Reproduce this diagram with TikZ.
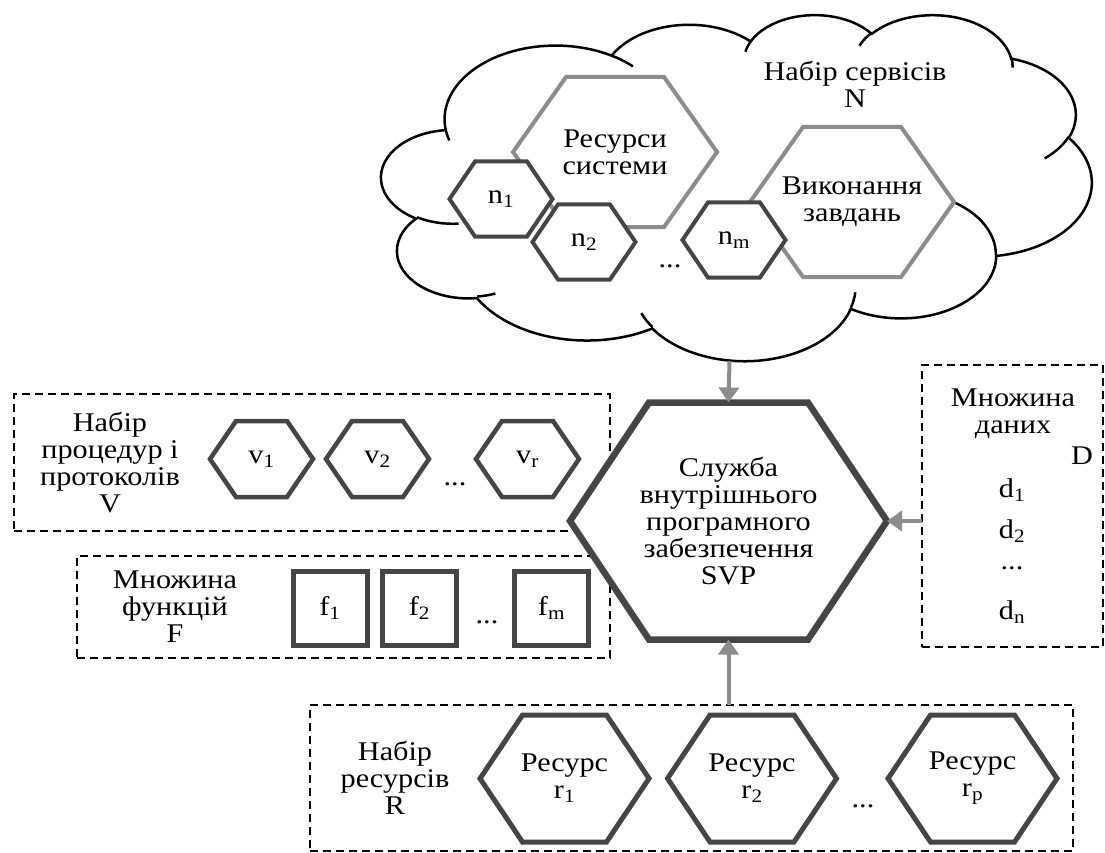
\documentclass[tikz,border=0pt]{standalone}
\usepackage{fontspec}
\setmainfont{Liberation Serif}[FakeStretch=1.12]
\usetikzlibrary{arrows.meta,calc}

\definecolor{framedark}{HTML}{454545}
\definecolor{framelight}{HTML}{8C8C8C}
\definecolor{flowgray}{HTML}{8C8C8C}

\makeatletter
% Hexagon node: rectangle anchors, left and right sides drawn as points.
\pgfkeys{/pgf/hex inset/.initial=10pt}
\pgfdeclareshape{hexbox}{%
  \inheritsavedanchors[from=rectangle]%
  \inheritanchorborder[from=rectangle]%
  \inheritanchor[from=rectangle]{center}%
  \inheritanchor[from=rectangle]{mid}%
  \inheritanchor[from=rectangle]{base}%
  \inheritanchor[from=rectangle]{north}%
  \inheritanchor[from=rectangle]{south}%
  \inheritanchor[from=rectangle]{east}%
  \inheritanchor[from=rectangle]{west}%
  \backgroundpath{%
    \southwest \edef\hx@l{\the\pgf@x}\edef\hx@b{\the\pgf@y}%
    \northeast \edef\hx@r{\the\pgf@x}\edef\hx@t{\the\pgf@y}%
    \pgfmathsetlengthmacro\hx@m{(\hx@b+\hx@t)/2}%
    \pgfmathsetlengthmacro\hx@li{\hx@l+\pgfkeysvalueof{/pgf/hex inset}}%
    \pgfmathsetlengthmacro\hx@ri{\hx@r-\pgfkeysvalueof{/pgf/hex inset}}%
    \pgfpathmoveto{\pgfqpoint{\hx@l}{\hx@m}}%
    \pgfpathlineto{\pgfqpoint{\hx@li}{\hx@t}}%
    \pgfpathlineto{\pgfqpoint{\hx@ri}{\hx@t}}%
    \pgfpathlineto{\pgfqpoint{\hx@r}{\hx@m}}%
    \pgfpathlineto{\pgfqpoint{\hx@ri}{\hx@b}}%
    \pgfpathlineto{\pgfqpoint{\hx@li}{\hx@b}}%
    \pgfpathclose
  }%
}

% Cloud outline: elliptic arcs in a 432 x 432 frame, angles measured on screen.
\def\cloudL{381.5}\def\cloudT{14}
\def\cloudsx{1.643519}\def\cloudsy{0.800926}
\newcommand\cloudarc[5]{% style name, x radius, y radius, start angle, sweep
  \pgfmathsetmacro\cl@s{atan2(#2*sin(#4),#3*cos(#4))}%
  \pgfmathsetmacro\cl@e{atan2(#2*sin(#4+#5),#3*cos(#4+#5))}%
  \pgfmathsetmacro\cl@e{\cl@s+mod(\cl@e-\cl@s+720,360)}%
  \pgfmathsetmacro\cl@rx{#2*\cloudsx}%
  \pgfmathsetmacro\cl@ry{#3*\cloudsy}%
  \edef\cl@tmp{\noexpand\tikzset{#1/.style={start angle=\cl@s,end angle=\cl@e,x radius=\cl@rx,y radius=\cl@ry}}}%
  \cl@tmp
}
\makeatother

% outer lobes
\cloudarc{clo1}{67.53}{91.90}{-190.4875}{123.7805}
\cloudarc{clo2}{53.33}{72.67}{-144.1024}{89.9452}
\cloudarc{clo3}{43.65}{59.45}{-145.8079}{99.7230}
\cloudarc{clo4}{48.57}{65.95}{-130.9861}{117.2417}
\cloudarc{clo5}{53.33}{72.73}{-78.7089}{109.0269}
\cloudarc{clo6}{67.75}{92.20}{-46.2673}{130.2690}
\cloudarc{clo7}{57.85}{78.67}{0.6250}{114.0333}
\cloudarc{clo8}{67.52}{92.15}{22.4516}{115.1726}
\cloudarc{clo9}{77.20}{105.43}{66.2426}{75.7110}
\cloudarc{clo10}{43.60}{59.18}{-274.9421}{146.7356}
\cloudarc{clo11}{43.45}{59.45}{-246.8285}{152.5189}
% inner strokes
\cloudarc{cli1}{43.45}{59.45}{86.742}{26.4295}
\cloudarc{cli2}{43.60}{59.18}{73.6105}{11.4475}
\cloudarc{cli3}{67.52}{92.15}{137.6242}{14.0811}
\cloudarc{cli4}{67.52}{92.15}{6.4533}{15.9984}
\cloudarc{cli5}{57.85}{78.67}{-70.2924}{70.9174}
\cloudarc{cli6}{53.33}{72.73}{30.3180}{27.7515}
\cloudarc{cli7}{48.57}{65.95}{-13.7443}{14.8589}
\cloudarc{cli8}{48.57}{65.95}{-149.1815}{18.1954}
\cloudarc{cli9}{43.65}{59.45}{-163.4943}{17.6864}
\cloudarc{cli10}{67.53}{91.90}{-66.7070}{12.3194}
\cloudarc{cli11}{67.53}{91.90}{157.6544}{11.8582}

\tikzset{
  txt/.style={font=\fontsize{27}{27}\selectfont, inner sep=0pt, align=center},
  hexbase/.style={shape=hexbox, fill=white, inner sep=0pt, outer sep=0pt, txt},
  cloudhex/.style={hexbase, draw=framelight, line width=4pt,
    minimum width=204pt, minimum height=150pt, hex inset=53pt},
  smallhex/.style={hexbase, draw=framedark, line width=4pt,
    minimum width=103pt, minimum height=75pt, hex inset=25.5pt},
  vhex/.style={hexbase, draw=framedark, line width=4.5pt,
    minimum width=103pt, minimum height=76pt, hex inset=26pt},
  rhex/.style={hexbase, draw=framedark, line width=5pt,
    minimum width=169pt, minimum height=127pt, hex inset=42.5pt},
  corehex/.style={hexbase, draw=framedark, line width=6.5pt,
    minimum width=317pt, minimum height=237pt, hex inset=79pt},
  funcbox/.style={draw=framedark, line width=5pt, fill=white,
    minimum width=74pt, minimum height=74pt, inner sep=0pt, outer sep=0pt, txt},
  groupbox/.style={draw=black, line width=1.8pt, dash pattern=on 8pt off 5pt,
    inner sep=0pt, outer sep=0pt, anchor=north west},
  flow/.style={draw=flowgray, line width=4pt, -{Triangle[length=15pt,width=20pt]}},
  cloudline/.style={draw=black, line width=2.5pt},
}

\begin{document}
\begin{tikzpicture}[x=1pt,y=-1pt]
\useasboundingbox (0,0) rectangle (1105,853);

% ---- cloud of services ----
\draw[cloudline, fill=white] ({\cloudL+39.00*\cloudsx},{\cloudT+143.70*\cloudsy})
  arc[clo1] arc[clo2] arc[clo3] arc[clo4] arc[clo5] arc[clo6]
  arc[clo7] arc[clo8] arc[clo9] arc[clo10] arc[clo11] -- cycle;
\draw[cloudline]
  ({\cloudL+46.93*\cloudsx},{\cloudT+261.77*\cloudsy}) arc[cli1]
  ({\cloudL+69.28*\cloudsx},{\cloudT+348.99*\cloudsy}) arc[cli2]
  ({\cloudL+164.78*\cloudsx},{\cloudT+390.90*\cloudsy}) arc[cli3]
  ({\cloudL+288.27*\cloudsx},{\cloudT+347.51*\cloudsy}) arc[cli4]
  ({\cloudL+341.29*\cloudsx},{\cloudT+229.54*\cloudsy}) arc[cli5]
  ({\cloudL+417.98*\cloudsx},{\cloudT+153.54*\cloudsy}) arc[cli6]
  ({\cloudL+383.24*\cloudsx},{\cloudT+54.26*\cloudsy}) arc[cli7]
  ({\cloudL+290.78*\cloudsx},{\cloudT+39.52*\cloudsy}) arc[cli8]
  ({\cloudL+221.41*\cloudsx},{\cloudT+47.20*\cloudsy}) arc[cli9]
  ({\cloudL+140.00*\cloudsx},{\cloudT+51.92*\cloudsy}) arc[cli10]
  ({\cloudL+41.27*\cloudsx},{\cloudT+157.89*\cloudsy}) arc[cli11];
\coordinate (cloudbase) at (729.5,361);

\node[txt] (ntitle) at (855,84) {Набір сервісів\\N};
\node[cloudhex] (ressys) at (615,152) {Ресурси\\системи};
\node[cloudhex] (tasks) at (852,202) {Виконання\\завдань};
\node[smallhex] (n1) at (501,199) {n\textsubscript{1}};
\node[smallhex] (n2) at (584,242) {n\textsubscript{2}};
\node[smallhex] (nm) at (734,240) {n\textsubscript{m}};
\node[txt] (ndots) at (670,266) {...};

% ---- procedures and protocols ----
\node[groupbox, minimum width=596pt, minimum height=137pt] (vbox) at (14,394) {};
\node[txt] (vlabel) at (110,463) {Набір\\процедур і\\протоколів\\V};
\node[vhex] (v1) at (261.5,459) {v\textsubscript{1}};
\node[vhex] (v2) at (377.5,459) {v\textsubscript{2}};
\node[vhex] (vr) at (527.5,459) {v\textsubscript{r}};
\node[txt] (vdots) at (455,484) {...};

% ---- functions ----
\node[groupbox, minimum width=533pt, minimum height=102pt] (fbox) at (77,556) {};
\node[txt] (flabel) at (175,607) {Множина\\функцій\\F};
\node[funcbox] (f1) at (330,608) {f\textsubscript{1}};
\node[funcbox] (f2) at (419.5,608) {f\textsubscript{2}};
\node[funcbox] (fm) at (551.5,608) {f\textsubscript{m}};
\node[txt] (fdots) at (487,622) {...};

% ---- central service ----
\node[corehex] (svp) at (728.5,521)
  {Служба\\внутрішнього\\програмного\\забезпечення\\SVP};

% ---- data set ----
\node[groupbox, minimum width=181pt, minimum height=282pt] (dbox) at (922,365) {};
\node[txt] (dlabel) at (1013,414) {Множина\\даних};
\node[txt] (dname) at (1082,456) {D};
\node[txt] (d1) at (1012,490) {d\textsubscript{1}};
\node[txt] (d2) at (1012,531) {d\textsubscript{2}};
\node[txt] (ddots) at (1012,568) {...};
\node[txt] (dn) at (1012,612) {d\textsubscript{n}};

% ---- resources ----
\node[groupbox, minimum width=763pt, minimum height=146pt] (rbox) at (310,705) {};
\node[txt] (rlabel) at (395,778) {Набір\\ресурсів\\R};
\node[rhex] (r1) at (564.5,778.5) {Ресурс\\r\textsubscript{1}};
\node[rhex] (r2) at (752,778.5) {Ресурс\\r\textsubscript{2}};
\node[rhex] (rp) at (972.5,778.5) {Ресурс\\r\textsubscript{p}};
\node[txt] (rdots) at (863,806) {...};

% ---- flows into the central service ----
\draw[flow] (cloudbase) -- (svp.north);
\draw[flow] (svp.south |- rbox.north) -- (svp.south);
\draw[flow] (dbox.west |- svp.east) -- (svp.east);
\end{tikzpicture}
\end{document}
